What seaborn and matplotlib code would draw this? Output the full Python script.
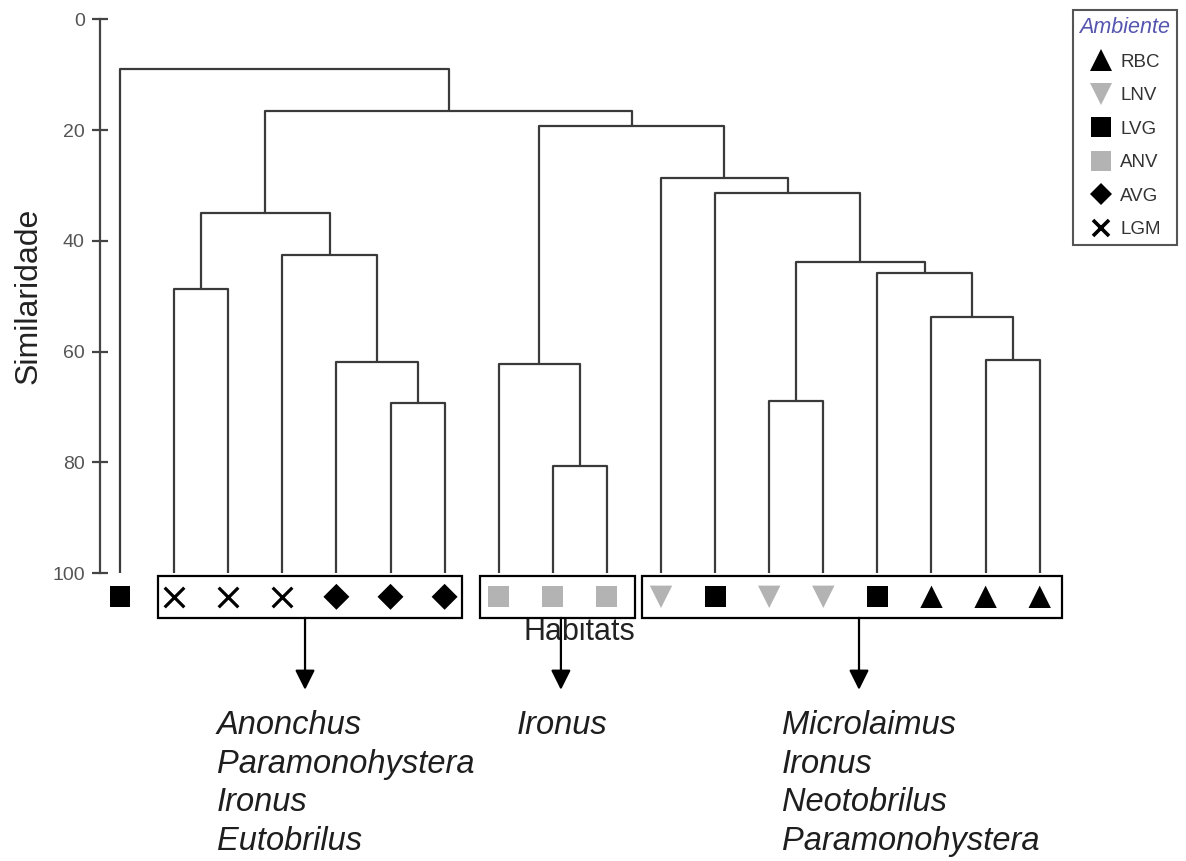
import matplotlib
matplotlib.use("Agg")
import matplotlib.pyplot as plt
from matplotlib.lines import Line2D
from matplotlib.patches import Rectangle, ArrowStyle
import pandas as pd
import seaborn as sns

# Habitat of each sample, in dendrogram leaf order
habitats = ["LVG", "LGM", "LGM", "LGM", "AVG", "AVG", "AVG",
            "ANV", "ANV", "ANV",
            "LNV", "LVG", "LNV", "LNV", "LVG", "RBC", "RBC", "RBC"]

# Agglomeration steps (ids < 18 are leaves; step k creates cluster 18 + k)
merge_left = [1, 5, 4, 3, 18, 8, 7, 16, 15, 14, 12, 28, 11, 10, 24, 22, 0]
merge_right = [2, 6, 19, 20, 21, 9, 23, 17, 25, 26, 13, 27, 29, 30, 31, 32, 33]
merge_similarity = [48.7, 69.3, 61.9, 42.5, 34.9, 80.7, 62.3, 61.5, 53.7,
                    45.9, 68.9, 43.8, 31.4, 28.7, 19.3, 16.6, 8.9]

# Habitat groups (first and last leaf) and their characteristic genera
group_first = [1, 7, 10]
group_last = [6, 9, 17]
group_genera = [["Anonchus", "Paramonohystera", "Ironus", "Eutobrilus"],
                ["Ironus"],
                ["Microlaimus", "Ironus", "Neotobrilus", "Paramonohystera"]]

legend_order = ["RBC", "LNV", "LVG", "ANV", "AVG", "LGM"]
y_ticks = [0, 20, 40, 60, 80, 100]

# ---- styling ---------------------------------------------------------------
sns.set_style("white")
plt.rcParams["font.family"] = ["Liberation Sans", "DejaVu Sans"]

BLACK = "#000000"
GREY = "#b3b3b3"
LINE = "#3a3a3a"
hab_color = {"RBC": BLACK, "LNV": GREY, "LVG": BLACK, "ANV": GREY, "AVG": BLACK, "LGM": BLACK}
hab_marker = {"RBC": "^", "LNV": "v", "LVG": "s", "ANV": "s", "AVG": "D", "LGM": "x"}
hab_size = {"RBC": 260, "LNV": 260, "LVG": 225, "ANV": 225, "AVG": 175, "LGM": 200}
legend_msize = {"RBC": 16, "LNV": 16, "LVG": 14, "ANV": 14, "AVG": 11.5, "LGM": 12}

W, H = 1186, 861
fig = plt.figure(figsize=(W / 100, H / 100), dpi=100)
ax = fig.add_axes([100 / W, 1 - 573 / H, 962 / W, 553.7 / H])

# ---- dendrogram branches -----------------------------------------------------
n_leaves = len(habitats)
node_x = [float(i) for i in range(n_leaves)]
node_h = [100.0] * n_leaves
rows = []
for k, (a, b, h) in enumerate(zip(merge_left, merge_right, merge_similarity)):
    xa, xb = node_x[a], node_x[b]
    rows += [(k, xa, node_h[a]), (k, xa, h), (k, xb, h), (k, xb, node_h[b])]
    node_x.append((xa + xb) / 2)
    node_h.append(h)
branches = pd.DataFrame(rows, columns=["merge", "x", "sim"])
sns.lineplot(data=branches, x="x", y="sim", units="merge", estimator=None,
             sort=False, color=LINE, linewidth=1.6, ax=ax)

# ---- leaf symbols ------------------------------------------------------------
MARK_Y = 104.3
leaves = pd.DataFrame({"x": range(n_leaves), "y": [MARK_Y] * n_leaves, "habitat": habitats})
filled = leaves[leaves["habitat"] != "LGM"]
crosses = leaves[leaves["habitat"] == "LGM"]
sns.scatterplot(data=filled, x="x", y="y", hue="habitat", style="habitat",
                size="habitat", palette=hab_color,
                markers={k: v for k, v in hab_marker.items() if k != "LGM"},
                sizes={k: v for k, v in hab_size.items() if k != "LGM"},
                linewidth=0, legend=False, clip_on=False, ax=ax, zorder=4)
sns.scatterplot(data=crosses, x="x", y="y", marker="x", color=BLACK,
                s=hab_size["LGM"], linewidth=2.3, legend=False, clip_on=False,
                ax=ax, zorder=4)

# ---- group boxes, arrows and genera -----------------------------------------
BOX_TOP, BOX_BOTTOM = 100.5, 108.1
ARROW_TIP = 121.1
TEXT_Y0, TEXT_STEP = 127.6, 6.95
box_pad_left = [0.30, 0.35, 0.35]
box_pad_right = [0.32, 0.52, 0.41]
arrow_x = [3.42, 8.15, 13.66]
text_x = [1.79, 7.34, 12.24]
for first, last, genera, pl, pr, ax_x, tx in zip(group_first, group_last, group_genera,
                                                  box_pad_left, box_pad_right, arrow_x, text_x):
    x0, x1 = first - pl, last + pr
    ax.add_patch(Rectangle((x0, BOX_TOP), x1 - x0, BOX_BOTTOM - BOX_TOP,
                           fill=False, edgecolor=BLACK, linewidth=1.6,
                           clip_on=False, zorder=3))
    ax.annotate("", xy=(ax_x, ARROW_TIP), xytext=(ax_x, BOX_BOTTOM),
                arrowprops=dict(arrowstyle=ArrowStyle("-|>", head_length=0.6, head_width=0.3),
                                mutation_scale=20, color=BLACK, lw=1.6,
                                shrinkA=0, shrinkB=0),
                annotation_clip=False)
    for j, name in enumerate(genera):
        ax.text(tx, TEXT_Y0 + j * TEXT_STEP, name, fontsize=23.5, style="italic",
                color="#1e1e1e", ha="left", va="center", clip_on=False)

# ---- axes ----------------------------------------------------------------------
ax.set_xlim(-20 / 54.1, 942 / 54.1)
ax.set_ylim(100, 0)
ax.set_yticks(y_ticks)
ax.set_yticklabels([str(t) for t in y_ticks])
ax.set_xticks([])
for side in ("top", "right", "bottom"):
    ax.spines[side].set_visible(False)
ax.spines["left"].set_bounds(0, 100)
ax.spines["left"].set_color("#444444")
ax.spines["left"].set_linewidth(1.6)
ax.tick_params(axis="y", left=True, direction="inout", length=12, width=1.6,
               color="#444444", labelsize=14, labelcolor="#555555", pad=5)
ax.set_ylabel("Similaridade", fontsize=23, color="#222222")
ax.yaxis.set_label_coords(-0.0748, 0.5)
ax.yaxis.label.set_va("center")
ax.set_xlabel("Habitats", fontsize=22, color="#222222")
ax.xaxis.set_label_coords(0.498, -0.1066)
ax.xaxis.label.set_va("center")

# ---- legend ----------------------------------------------------------------------
handles = []
for hab in legend_order:
    if hab == "LGM":
        handles.append(Line2D([], [], marker="x", linestyle="none", color=BLACK,
                              markersize=legend_msize[hab], markeredgewidth=2.6))
    else:
        handles.append(Line2D([], [], marker=hab_marker[hab], linestyle="none",
                              color=hab_color[hab], markeredgewidth=0,
                              markersize=legend_msize[hab]))
leg = fig.legend(handles, legend_order, title="Ambiente", loc="upper right",
                 bbox_to_anchor=(1177 / W, 1 - 10 / H), bbox_transform=fig.transFigure,
                 frameon=True, fancybox=False, framealpha=1, edgecolor="#555555",
                 fontsize=13.5, title_fontsize=15.5, borderpad=0.35, labelspacing=0.87,
                 handletextpad=0.35, handlelength=1.3, borderaxespad=0)
leg.get_frame().set_linewidth(1.5)
leg.get_title().set_fontstyle("italic")
leg.get_title().set_color("#5555b0")
for t in leg.get_texts():
    t.set_color("#333333")

fig.savefig("out.png", dpi=100)
